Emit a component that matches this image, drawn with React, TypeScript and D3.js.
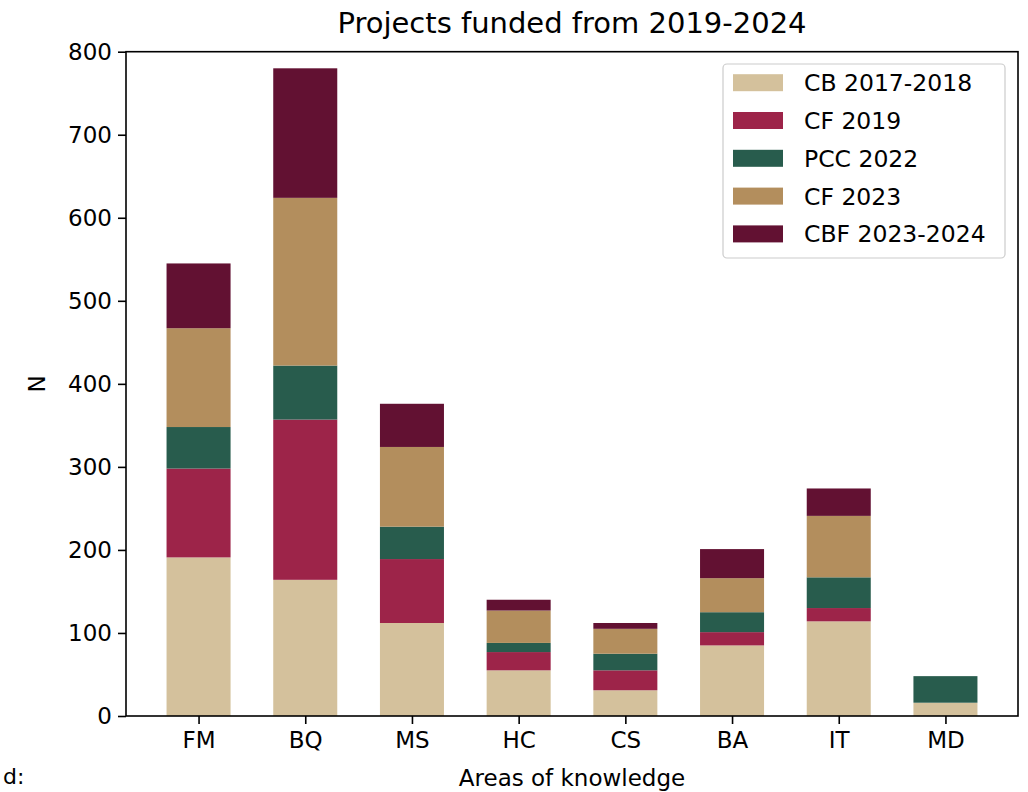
import React, { useEffect, useRef } from "react";
import * as d3 from "d3";

const categories = ["FM", "BQ", "MS", "HC", "CS", "BA", "IT", "MD"];
const seriesNames = ["CB 2017-2018", "CF 2019", "PCC 2022", "CF 2023", "CBF 2023-2024"];
const cb2017 = [191, 164, 112, 55, 31, 85, 114, 16];
const cf2019 = [107, 193, 77, 22, 24, 16, 16, 0];
const pcc2022 = [50, 65, 39, 11, 20, 24, 37, 32];
const cf2023 = [119, 202, 96, 39, 30, 41, 74, 0];
const cbf2023 = [78, 156, 52, 13, 7, 35, 33, 0];
const colors = ["#D4C19C", "#9D2449", "#285C4D", "#B38E5D", "#621132"];
const yTicks = [0, 100, 200, 300, 400, 500, 600, 700, 800];

const W = 1028;
const H = 792;
const FONT = "DejaVu Sans, sans-serif";

export default function App() {
  const ref = useRef<SVGSVGElement>(null);

  useEffect(() => {
    const svg = d3.select(ref.current);
    svg.selectAll("*").remove();

    const left = 126, right = 1018, top = 51.7, bottom = 716;
    const barW = 0.6;
    const x = d3.scaleLinear().domain([-0.68, 7.68]).range([left, right]);
    const y = d3.scaleLinear().domain([0, 800]).range([bottom, top]);

    const rows = categories.map((c, i) => ({
      cat: c,
      idx: i,
      s0: cb2017[i],
      s1: cf2019[i],
      s2: pcc2022[i],
      s3: cf2023[i],
      s4: cbf2023[i],
    }));
    const keys = ["s0", "s1", "s2", "s3", "s4"];
    const stacked = d3.stack<any>().keys(keys)(rows);

    const g = svg.append("g");
    stacked.forEach((layer, li) => {
      g.selectAll(null)
        .data(layer)
        .enter()
        .append("rect")
        .filter((d: any) => d[1] - d[0] > 0)
        .attr("x", (d: any) => x(d.data.idx - barW / 2))
        .attr("width", (d: any) => x(d.data.idx + barW / 2) - x(d.data.idx - barW / 2))
        .attr("y", (d: any) => y(d[1]))
        .attr("height", (d: any) => y(d[0]) - y(d[1]))
        .attr("fill", colors[li]);
    });

    // Y axis
    const yAxis = d3.axisLeft(y).tickValues(yTicks).tickSize(8).tickPadding(6);
    const ya = svg.append("g").attr("transform", `translate(${left},0)`).call(yAxis);
    ya.select(".domain").remove();
    ya.selectAll("line").attr("stroke", "#000").attr("stroke-width", 1.6);
    ya.selectAll("text").attr("font-family", FONT).attr("font-size", 23).attr("fill", "#000");

    // X axis
    const xAxis = d3
      .axisBottom(x)
      .tickValues(categories.map((_, i) => i))
      .tickFormat((d: any) => categories[d])
      .tickSize(8)
      .tickPadding(8);
    const xa = svg.append("g").attr("transform", `translate(0,${bottom})`).call(xAxis);
    xa.select(".domain").remove();
    xa.selectAll("line").attr("stroke", "#000").attr("stroke-width", 1.6);
    xa.selectAll("text").attr("font-family", FONT).attr("font-size", 23).attr("fill", "#000");

    // Frame
    svg
      .append("rect")
      .attr("x", left)
      .attr("y", top)
      .attr("width", right - left)
      .attr("height", bottom - top)
      .attr("fill", "none")
      .attr("stroke", "#000")
      .attr("stroke-width", 1.6);

    // Title & labels
    svg
      .append("text")
      .attr("x", (left + right) / 2)
      .attr("y", 33)
      .attr("text-anchor", "middle")
      .attr("font-family", FONT)
      .attr("font-size", 29)
      .text("Projects funded from 2019-2024");

    svg
      .append("text")
      .attr("x", (left + right) / 2)
      .attr("y", 786)
      .attr("text-anchor", "middle")
      .attr("font-family", FONT)
      .attr("font-size", 23)
      .text("Areas of knowledge");

    svg
      .append("text")
      .attr("transform", `translate(45,${(top + bottom) / 2}) rotate(-90)`)
      .attr("text-anchor", "middle")
      .attr("font-family", FONT)
      .attr("font-size", 23)
      .text("N");

    svg
      .append("text")
      .attr("x", 3)
      .attr("y", 784)
      .attr("font-family", FONT)
      .attr("font-size", 22)
      .text("d:");

    // Legend
    const lg = svg.append("g");
    lg.append("rect")
      .attr("x", 723)
      .attr("y", 64)
      .attr("width", 282)
      .attr("height", 194)
      .attr("rx", 4)
      .attr("fill", "#fff")
      .attr("fill-opacity", 0.8)
      .attr("stroke", "#ccc")
      .attr("stroke-width", 1.2);
    seriesNames.forEach((name, i) => {
      const cy = 82.7 + i * 37.8;
      lg.append("rect")
        .attr("x", 733)
        .attr("y", cy - 8.5)
        .attr("width", 50)
        .attr("height", 17)
        .attr("fill", colors[i]);
      lg.append("text")
        .attr("x", 804)
        .attr("y", cy + 8.5)
        .attr("font-family", FONT)
        .attr("font-size", 23.5)
        .text(name);
    });
  }, []);

  return (
    <svg
      ref={ref}
      width={W}
      height={H}
      style={{ position: "absolute", left: 0, top: 0, background: "#fff" }}
    />
  );
}
